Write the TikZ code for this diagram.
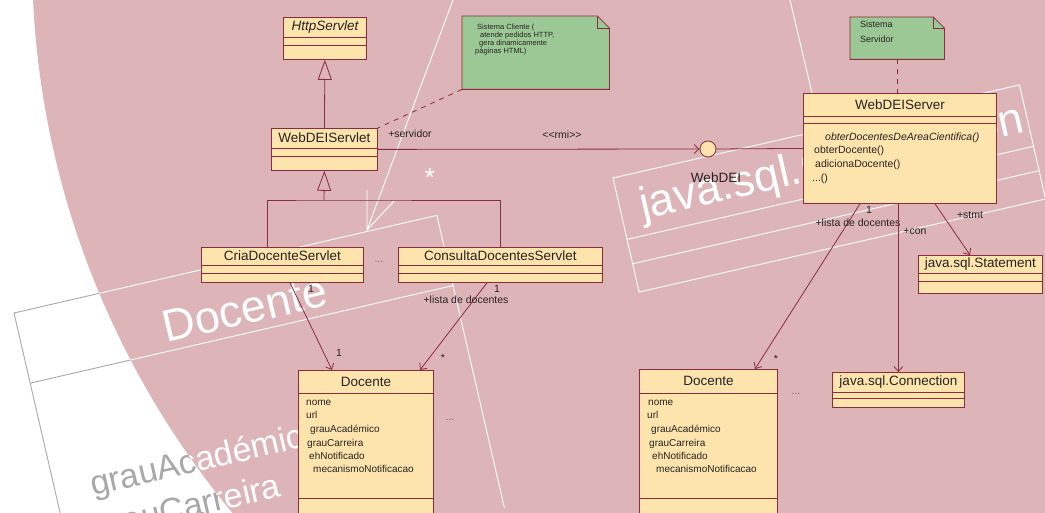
\documentclass[tikz,border=0pt]{standalone}
\usepackage{fontspec}
\setmainfont{Liberation Sans}
\usetikzlibrary{arrows.meta}

\definecolor{pinkbg}{RGB}{221,181,184}
\definecolor{umlfill}{RGB}{252,228,172}
\definecolor{umlline}{RGB}{140,42,62}
\definecolor{notefill}{RGB}{156,200,150}
\definecolor{umltext}{RGB}{40,34,36}
\definecolor{zoomgrey}{RGB}{168,168,168}

\tikzset{
	classbox/.style={draw=umlline, fill=umlfill, line width=0.8, inner sep=0, anchor=north west},
	umledge/.style={draw=umlline, line width=0.8},
	cname/.style={font=\fontsize{13.5}{15}\selectfont, text=umltext, inner sep=0},
	member/.style={font=\fontsize{10}{12}\selectfont, text=umltext, anchor=base west, inner sep=0},
	role/.style={font=\fontsize{10.5}{12}\selectfont, text=umltext, inner sep=0},
	notebox/.style={draw=umlline, fill=notefill, line width=0.8},
	notetext/.style={font=\fontsize{7.5}{8}\selectfont, text=umltext, anchor=base west, inner sep=0},
	assoc/.style={umledge, -{Straight Barb[length=5pt,width=9pt]}},
	inherit/.style={umledge, -{Triangle[length=20pt,width=14pt,fill=pinkbg]}},
	notelink/.style={umledge, dash pattern=on 5pt off 5pt},
	zoomline/.style={draw=white, line width=0.9},
	zoomtext/.style={text=white, transform shape, inner sep=0},
}

% the enlarged Docente box runs off the disc, so it is drawn once per colour
\newcommand{\zoomdocente}[1]{%
	\begin{scope}[shift={(14,313)}, rotate=13]
		\draw[zoomline, draw=#1] (0,300) -- (0,0) -- (434,0) -- (434,300);
		\draw[zoomline, draw=#1] (0,72) -- (434,72);
		\node[zoomtext, text=#1, font=\fontsize{34}{40}\selectfont, anchor=base west] at (36,196) {grauAcadémico};
		\node[zoomtext, text=#1, font=\fontsize{34}{40}\selectfont, anchor=base west] at (29,239) {grauCarreira};
	\end{scope}
}

\begin{document}
\begin{tikzpicture}[x=1pt,y=-1pt]
	\useasboundingbox (0,0) rectangle (1045,513);
	\fill[white] (0,0) rectangle (1045,513);

	% background disc with the enlarged boxes
	\zoomdocente{zoomgrey}
	\fill[pinkbg] (903,-43) circle[radius=871];
	\begin{scope}
		\clip (903,-43) circle[radius=871];
		\zoomdocente{white}
	\end{scope}
	\node[zoomtext, font=\fontsize{45}{50}\selectfont, rotate=13] at (245,309) {Docente};
	\begin{scope}[shift={(613,178)}, rotate=12.9]
		\draw[zoomline] (0,0) rectangle (417,117);
		\draw[zoomline] (0,63) -- (417,63);
		\draw[zoomline] (0,88) -- (417,88);
		\node[zoomtext, font=\fontsize{45}{50}\selectfont, anchor=base west] at (20,47) {java.sql.Connection};
	\end{scope}
	\draw[zoomline] (453,0) -- (367,230) -- (367,190);
	\draw[zoomline] (367,230) -- (394,201);
	\node[zoomtext, font=\fontsize{26}{26}\selectfont] at (430,178) {*};
	\draw[zoomline] (790,0) -- (812,93);

	% client side
	\node[classbox, minimum width=83, minimum height=42] (http) at (283,17) {};
	\draw[umledge] ([yshift=-20]http.north west) -- ([yshift=-20]http.north east);
	\draw[umledge] ([yshift=-28]http.north west) -- ([yshift=-28]http.north east);
	\node[cname] at ([yshift=-10]http.north) {\itshape HttpServlet};

	\node[classbox, minimum width=106, minimum height=42] (servlet) at (271,128) {};
	\draw[umledge] ([yshift=-20]servlet.north west) -- ([yshift=-20]servlet.north east);
	\draw[umledge] ([yshift=-28]servlet.north west) -- ([yshift=-28]servlet.north east);
	\node[cname] at ([yshift=-10]servlet.north) {WebDEIServlet};

	\node[classbox, minimum width=162, minimum height=35] (cria) at (201,247) {};
	\draw[umledge] ([yshift=-18]cria.north west) -- ([yshift=-18]cria.north east);
	\draw[umledge] ([yshift=-26]cria.north west) -- ([yshift=-26]cria.north east);
	\node[cname] at ([yshift=-9]cria.north) {CriaDocenteServlet};

	\node[classbox, minimum width=204, minimum height=35] (consulta) at (398,247) {};
	\draw[umledge] ([yshift=-18]consulta.north west) -- ([yshift=-18]consulta.north east);
	\draw[umledge] ([yshift=-26]consulta.north west) -- ([yshift=-26]consulta.north east);
	\node[cname] at ([yshift=-9]consulta.north) {ConsultaDocentesServlet};
	\node[role, text=umltext!70] at (379,262) {...};

	\node[classbox, minimum width=135, minimum height=160] (docL) at (298,370) {};
	\draw[umledge] ([yshift=-23]docL.north west) -- ([yshift=-23]docL.north east);
	\draw[umledge] ([yshift=-128]docL.north west) -- ([yshift=-128]docL.north east);
	\node[cname] at ([yshift=-11.5]docL.north) {Docente};
	\node[member] at ([xshift=8,yshift=-35.5]docL.north west) {nome};
	\node[member] at ([xshift=8,yshift=-48.5]docL.north west) {url};
	\node[member] at ([xshift=12,yshift=-62.5]docL.north west) {grauAcadémico};
	\node[member] at ([xshift=9,yshift=-76.5]docL.north west) {grauCarreira};
	\node[member] at ([xshift=11,yshift=-89.5]docL.north west) {ehNotificado};
	\node[member] at ([xshift=15,yshift=-102.5]docL.north west) {mecanismoNotificacao};
	\node[role, text=umltext!70] at (450,420) {...};

	\node[minimum width=147, minimum height=73, inner sep=0, anchor=north west] (noteL) at (462,16) {};
	\draw[notebox] (noteL.north west) -- ([xshift=-12]noteL.north east) -- ([yshift=-12]noteL.north east)
		-- (noteL.south east) -- (noteL.south west) -- cycle;
	\draw[umledge, line width=0.6] ([xshift=-12]noteL.north east) -- ([xshift=-12,yshift=-12]noteL.north east)
		-- ([yshift=-12]noteL.north east);
	\node[notetext] at (477,30) {Sistema Cliente (};
	\node[notetext] at (480,38) {atende pedidos HTTP,};
	\node[notetext] at (479,46) {gera dinamicamente};
	\node[notetext] at (475,54) {páginas HTML)};

	% generalisations
	\coordinate (busmid) at (324,200);
	\draw[inherit] (servlet.north) -- (http.south);
	\draw[umledge] ([xshift=66]cria.north west) |- (busmid) -| (consulta.north);
	\draw[inherit] (busmid) -- (servlet.south);

	% associations on the client side
	\draw[notelink] (noteL.south west) -- (servlet.north east);
	\draw[assoc] ([xshift=89]cria.south west) -- ([xshift=34]docL.north west);
	\node[role] at (311,289) {1};
	\node[role] at (339,353) {1};
	\draw[assoc] ([xshift=89]consulta.south west) -- ([xshift=122]docL.north west);
	\node[role] at (497,289) {1};
	\node[role] at (466,300) {+lista de docentes};
	\node[role] at (443,358) {*};

	% server side
	\node[classbox, minimum width=193, minimum height=110] (server) at (803,93) {};
	\draw[umledge] ([yshift=-23]server.north west) -- ([yshift=-23]server.north east);
	\draw[umledge] ([yshift=-30]server.north west) -- ([yshift=-30]server.north east);
	\node[cname] at ([yshift=-11.5]server.north) {WebDEIServer};
	\node[member, font=\fontsize{10.5}{12}\itshape] at ([xshift=22,yshift=-47.5]server.north west) {obterDocentesDeAreaCientifica()};
	\node[member, font=\fontsize{10.5}{12}\selectfont] at ([xshift=11,yshift=-60.5]server.north west) {obterDocente()};
	\node[member, font=\fontsize{10.5}{12}\selectfont] at ([xshift=12,yshift=-74.5]server.north west) {adicionaDocente()};
	\node[member, font=\fontsize{10.5}{12}\selectfont] at ([xshift=9,yshift=-89]server.north west) {...()};

	\node[minimum width=94, minimum height=42, inner sep=0, anchor=north west] (noteR) at (850,17) {};
	\draw[notebox] (noteR.north west) -- ([xshift=-11]noteR.north east) -- ([yshift=-11]noteR.north east)
		-- (noteR.south east) -- (noteR.south west) -- cycle;
	\draw[umledge, line width=0.6] ([xshift=-11]noteR.north east) -- ([xshift=-11,yshift=-11]noteR.north east)
		-- ([yshift=-11]noteR.north east);
	\node[notetext, font=\fontsize{9}{10}\selectfont] at (860,28) {Sistema};
	\node[notetext, font=\fontsize{9}{10}\selectfont] at (860,43) {Servidor};
	\draw[notelink] (noteR.south) -- (noteR.south |- server.north);

	\node[draw=umlline, fill=umlfill, circle, minimum size=16, inner sep=0, line width=0.8] (webdei) at (708,149) {};
	\node[cname] at (716,178) {WebDEI};
	\draw[assoc] (servlet.east) -- (webdei.west);
	\node[role] at (410,134) {+servidor};
	\node[role] at (562,135) {<{}<rmi>{}>};
	\draw[umledge] (webdei.east) -- (server.west);

	\node[classbox, minimum width=124, minimum height=38] (stmt) at (918,255) {};
	\draw[umledge] ([yshift=-18]stmt.north west) -- ([yshift=-18]stmt.north east);
	\draw[umledge] ([yshift=-26]stmt.north west) -- ([yshift=-26]stmt.north east);
	\node[cname] at ([yshift=-9]stmt.north) {java.sql.Statement};

	\node[classbox, minimum width=132, minimum height=35] (conn) at (832,372) {};
	\draw[umledge] ([yshift=-20]conn.north west) -- ([yshift=-20]conn.north east);
	\draw[umledge] ([yshift=-26]conn.north west) -- ([yshift=-26]conn.north east);
	\node[cname] at ([yshift=-10]conn.north) {java.sql.Connection};

	\node[classbox, minimum width=138, minimum height=160] (docR) at (639,369) {};
	\draw[umledge] ([yshift=-24]docR.north west) -- ([yshift=-24]docR.north east);
	\draw[umledge] ([yshift=-129]docR.north west) -- ([yshift=-129]docR.north east);
	\node[cname] at ([yshift=-12]docR.north) {Docente};
	\node[member] at ([xshift=9,yshift=-36.5]docR.north west) {nome};
	\node[member] at ([xshift=8,yshift=-49.5]docR.north west) {url};
	\node[member] at ([xshift=12,yshift=-63.5]docR.north west) {grauAcadémico};
	\node[member] at ([xshift=10,yshift=-77.5]docR.north west) {grauCarreira};
	\node[member] at ([xshift=13,yshift=-90.5]docR.north west) {ehNotificado};
	\node[member] at ([xshift=17,yshift=-103.5]docR.north west) {mecanismoNotificacao};
	\node[role, text=umltext!70] at (796,394) {...};

	% associations on the server side
	\draw[assoc] ([xshift=57]server.south west) -- ([xshift=116]docR.north west);
	\node[role] at (869,210) {1};
	\node[role] at (858,223) {+lista de docentes};
	\node[role] at (776,359) {*};
	\draw[assoc] (conn.north |- server.south) -- (conn.north);
	\node[role] at (915,232) {+con};
	\draw[assoc] ([xshift=132]server.south west) -- ([xshift=52]stmt.north west);
	\node[role] at (970,215) {+stmt};
\end{tikzpicture}
\end{document}
